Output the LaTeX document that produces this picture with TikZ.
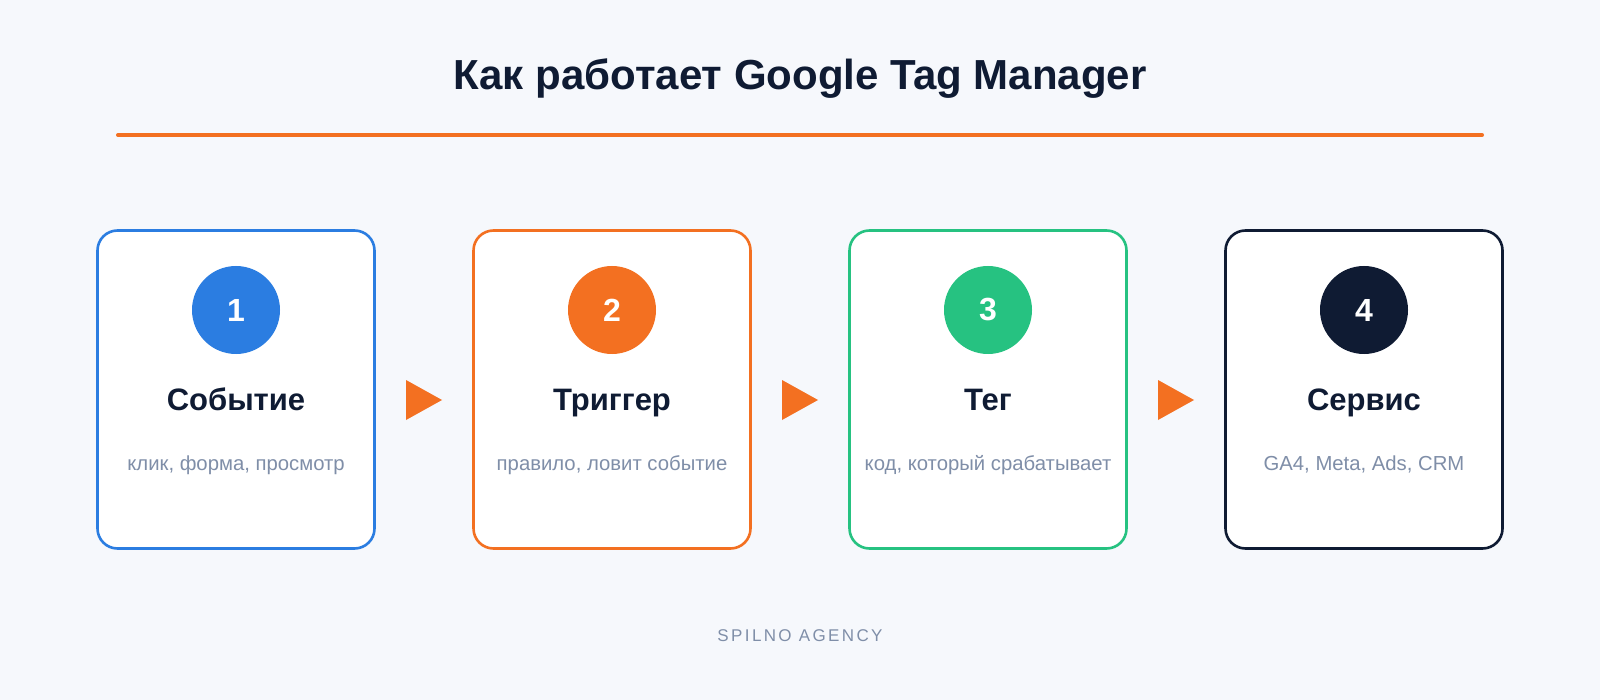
\documentclass[tikz,border=0pt]{standalone}
\usepackage{fontspec}
\setmainfont{Liberation Sans}
\newfontfamily\spacedfont[LetterSpace=14]{Liberation Sans}
\usetikzlibrary{calc}
\definecolor{bgc}{HTML}{F6F8FC}
\definecolor{navyc}{HTML}{0F1B33}
\definecolor{bluec}{HTML}{2B7DE1}
\definecolor{orangec}{HTML}{F37021}
\definecolor{greenc}{HTML}{26C281}
\definecolor{grayc}{HTML}{7F8EA8}
\tikzset{
  card/.style={draw=#1, fill=white, line width=2.6pt, rounded corners=20pt,
    minimum width=277pt, minimum height=318pt, inner sep=0pt, outer sep=0pt},
  badge/.style={circle, fill=#1, minimum size=88pt, inner sep=0pt,
    text=white, font=\fontsize{32}{36}\selectfont\bfseries},
  cardtitle/.style={anchor=base, text=navyc, font=\fontsize{31}{35}\selectfont\bfseries},
  cardsub/.style={anchor=base, text=grayc, font=\fontsize{20.3}{24}\selectfont},
  flowarrow/.style={fill=orangec},
}
\begin{document}
\begin{tikzpicture}[x=1pt,y=-1pt]
\fill[bgc] (0,0) rectangle (1600,700);
\useasboundingbox (0,0) rectangle (1600,700);
\node[anchor=base, text=navyc, font=\fontsize{42}{48}\selectfont\bfseries] (title) at (800,90) {Как работает Google Tag Manager};
\draw[orangec, line width=4pt, line cap=round] (118,135) -- (1482,135);
\foreach \i/\x/\col/\head/\sub in {
  1/236/bluec/Событие/{клик, форма, просмотр},
  2/612/orangec/Триггер/{правило, ловит событие},
  3/988/greenc/Тег/{код, который срабатывает},
  4/1364/navyc/Сервис/{GA4, Meta, Ads, CRM}} {
  \node[card=\col] (b\i) at (\x,389.5) {};
  \node[badge=\col] (c\i) at (\x,310) {\i};
  \node[cardtitle] (t\i) at (\x,410) {\head};
  \node[cardsub] (s\i) at (\x,470) {\sub};
}
\foreach \a/\b in {1/2,2/3,3/4} {
  \coordinate (m\a) at ($($(b\a.east)!0.5!(b\b.west)$)+(0,10.5)$);
  \fill[flowarrow] ($(m\a)+(-18,-20)$) -- ($(m\a)+(18,0)$) -- ($(m\a)+(-18,20)$) -- cycle;
}
\node[anchor=base, text=grayc, font=\fontsize{17}{20}\selectfont\spacedfont] (foot) at (800,641) {SPILNO AGENCY};
\end{tikzpicture}
\end{document}
